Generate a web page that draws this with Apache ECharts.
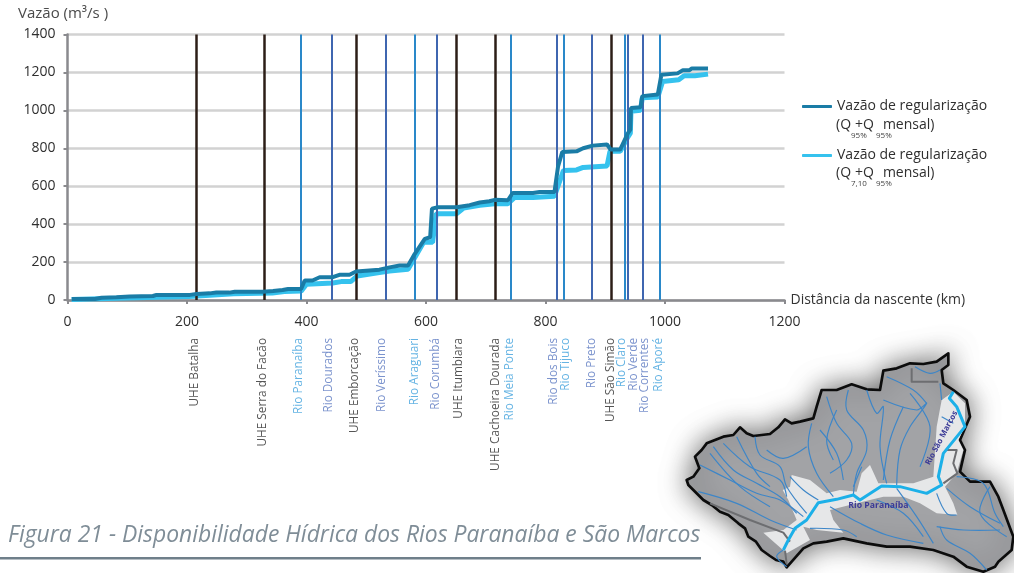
<!DOCTYPE html>
<html><head><meta charset="utf-8">
<style>html,body{margin:0;padding:0;background:#fff}#c{width:1014px;height:573px}</style>
<script src="https://cdn.jsdelivr.net/npm/echarts@6/dist/echarts.min.js"></script>
</head><body><div id="c"></div>
<script>
// ---- chart values (km, m3/s) ----
const darkKm = [7,46,57,82,104,143,149,205,216,238,249,271,280,327,344,360,369,391,397,410,422,444,455,472,483,522,539,556,570,581,598,607,610,620,651,673,690,706,715,737,745,779,790,815,821,828,852,863,879,903,909,925,938,942,943,959,962,988,994,1021,1030,1041,1045,1072];
const darkQ  = [5,5,12,14,19,21,27,27,32,35,39,39,44,44,48,53,58,58,103,103,120,120,133,133,150,160,172,182,182,242,322,331,482,489,489,500,514,521,528,526,564,564,569,569,704,780,784,800,814,820,793,793,880,898,1012,1016,1075,1084,1188,1195,1212,1212,1221,1221];
const lightKm = [7,98,203,238,278,343,363,391,400,444,458,474,485,522,539,570,596,611,617,651,663,690,715,737,748,779,815,830,852,863,903,908,925,938,942,943,959,962,988,996,1023,1032,1050,1072];
const lightQ  = [3,10,18,25,33,37,45,47,83,90,97,97,127,145,153,162,304,304,455,455,485,500,508,508,540,540,547,683,686,699,707,784,784,860,880,995,1000,1066,1071,1152,1161,1182,1182,1191];

const uheNames = ['UHE Batalha','UHE Serra do Facão','UHE Emborcação','UHE Itumbiara','UHE Cachoeira Dourada','UHE São Simão'];
const uheKm = [216,329,484,651,716,910];
const rioLightNames = ['Rio Paranaíba','Rio Araguari','Rio Meia Ponte','Rio Tijuco','Rio Claro','Rio Aporé'];
const rioLightKm = [391,582,742,831,932,992];
const rioDarkNames = ['Rio Dourados','Rio Veríssimo','Rio Corumbá','Rio dos Bois','Rio Preto','Rio Verde','Rio Correntes'];
const rioDarkKm = [442,533,618,819,878,938,963];
const xTicks = {min:0,max:1200,interval:200};
const yTicks = {min:0,max:1400,interval:200};
const nameDark = 'Vazão de regularização (Q95% +Q95% mensal)';
const nameLight = 'Vazão de regularização (Q7,10 +Q95% mensal)';

// ---- styling ----
const FONT='"Open Sans","Noto Sans",sans-serif';
const C={uhe:'#2c1e17',rl:'#2a88c9',rd:'#3f66b0',dark:'#1a7ca6',light:'#35c2ee',ltxtL:'#3fa0dc',ltxtD:'#5a78c0',ltxtU:'#2a2a2a'};
const nudge={'UHE Batalha':-2,'UHE Serra do Facão':-1,'Rio Paranaíba':-2,'Rio Dourados':-3,'UHE Emborcação':-2,'Rio Veríssimo':-4,'Rio Araguari':-1,'Rio Corumbá':-1,'UHE Itumbiara':2,'UHE Cachoeira Dourada':0,'Rio Meia Ponte':-1,'Rio dos Bois':-3,'Rio Tijuco':2,'Rio Preto':0,'UHE São Simão':-1,'Rio Claro':-3,'Rio Verde':6,'Rio Correntes':2,'Rio Aporé':-2};

function vlines(names,kms,color,width,txt){
  return [{
    type:'line',data:[],silent:true,z:2,
    markLine:{silent:true,symbol:'none',animation:false,label:{show:false},
      lineStyle:{color,width,type:'solid'},data:kms.map(k=>({xAxis:k}))}
  },{
    type:'scatter',symbolSize:0,silent:true,z:6,clip:false,
    data:kms.map((k,i)=>({value:[k,0],label:{offset:[-38,nudge[names[i]]||0],formatter:names[i]}})),
    label:{show:true,position:'inside',rotate:90,align:'right',verticalAlign:'middle',color:txt,fontFamily:FONT,fontSize:11.8}
  }];
}

// ---- inset map, in a local drawing space three times the page scale ----
const outline=[[350,682],[340,665],[318,660],[300,648],[275,630],[258,605],[235,590],[225,565],[205,550],[175,525],[150,515],[125,495],[100,480],[85,465],[55,435],[50,420],[70,410],[88,385],[75,350],[95,330],[110,310],[135,300],[160,290],[190,285],[210,262],[230,280],[250,288],[300,282],[325,262],[345,238],[365,250],[390,245],[430,235],[440,200],[455,150],[500,150],[545,133],[590,148],[630,150],[640,92],[680,85],[720,70],[760,72],[800,65],[835,40],[835,75],[815,90],[820,130],[850,150],[890,180],[900,230],[885,265],[870,300],[885,330],[870,395],[900,425],[960,425],[985,470],[1000,510],[1030,590],[1025,630],[985,665],[975,680],[940,695],[890,680],[850,650],[790,630],[720,620],[650,620],[590,610],[520,595],[470,605],[430,610],[400,625]];
const patch=[[365,405],[420,420],[470,460],[510,450],[560,455],[575,400],[600,375],[625,430],[730,430],[790,410],[800,260],[815,180],[850,155],[885,190],[885,260],[865,300],[880,330],[860,400],[825,440],[850,490],[862,525],[800,520],[750,490],[700,470],[640,470],[560,490],[480,510],[490,540],[520,578],[440,570],[400,560],[420,600],[350,640],[280,578],[340,570],[380,540],[355,480],[338,450],[360,440]];
const mainRiver=[[340,630],[355,600],[375,565],[410,540],[445,488],[500,478],[550,465],[570,480],[635,438],[690,440],[770,460],[815,435],[805,410],[820,340],[885,260],[860,200],[838,175],[850,155]];
const tribs=[
 [[90,375],[180,420],[260,460],[330,480],[400,530]],[[130,320],[190,390],[260,430],[330,470],[380,520]],
 [[85,455],[200,490],[300,540],[380,570]],[[255,290],[270,345],[330,380],[350,440],[410,520]],
 [[290,330],[340,355],[410,320]],[[425,250],[415,320],[440,400],[490,470]],
 [[470,170],[500,250],[545,310],[530,360],[480,400]],[[500,210],[470,300],[490,360]],
 [[535,150],[530,210],[580,270],[590,330],[560,400],[550,465]],[[590,150],[620,220],[640,200],[630,320],[650,430]],
 [[640,180],[740,210],[770,190],[720,260],[690,330],[680,435]],[[650,110],[730,150],[770,190]],
 [[735,80],[780,100],[810,90]],[[810,130],[815,180]],[[750,380],[780,260],[720,160]],
 [[480,500],[570,550],[650,585],[760,610]],[[680,445],[740,530],[790,610]],[[620,480],[700,520],[760,590]],
 [[800,460],[830,520],[860,525]],[[830,445],[900,500],[990,550]],[[860,410],[940,430],[975,520],[1000,560]],
 [[800,560],[880,570],[990,570]],[[810,560],[830,600],[900,640],[950,690]],[[420,565],[520,570],[560,590]],
 [[340,630],[320,650],[350,680]],[[360,410],[400,450],[445,480]],[[575,380],[550,440]],[[815,230],[850,250]],
 [[160,310],[240,380],[330,420],[350,470]],[[200,290],[260,400],[300,440]],[[450,270],[500,340],[520,420]],
 [[700,200],[660,300],[640,420]],[[120,340],[210,440],[300,500]],[[960,440],[930,520],[1010,590]]
];
const greyEdges=[[[725,85],[725,125],[805,125]],[[830,330],[860,330],[850,370],[862,400],[820,430]],[[120,490],[240,540],[340,578],[360,605]],[[345,632],[350,672]]];
const poly=(pts,style)=>({type:'polygon',shape:{points:pts},style});
const pline=(pts,stroke,w,smooth)=>({type:'polyline',shape:{points:pts,smooth:smooth||0},style:{stroke,lineWidth:w,fill:'none',lineJoin:'round'}});
const mapGroup={type:'group',x:670,y:340,scaleX:1/3,scaleY:1/3,z:20,silent:true,children:[
  poly(outline,{fill:'#a2a3a6',stroke:'#0c0c0c',lineWidth:8,shadowBlur:28,shadowColor:'rgba(0,0,0,0.6)',lineJoin:'round'}),
  poly(patch,{fill:'#e6e7e8'}),
  ...tribs.map(t=>pline(t,'#3d86c8',3.5,0.35)),
  ...greyEdges.map(t=>pline(t,'#6d6e71',6)),
  pline(mainRiver,'#1cb0e8',9),
  {type:'text',x:535,y:484,style:{text:'Rio Paranaíba',font:'bold 26px '+FONT,fill:'#3b3a96'}},
  {type:'text',x:762,y:368,rotation:Math.PI*0.345,style:{text:'Rio São Marcos',font:'bold 24px '+FONT,fill:'#3b3a96'}}
]};

const legendSub=(x,y)=>({type:'text',x,y,z:10,silent:true,style:{
  text:'{t|(Q}{g1|}{t|+Q}{g2|}{t|mensal)}',font:'14px '+FONT,
  rich:{t:{fontFamily:FONT,fontSize:14,fill:'#2f2f2f'},g1:{width:4},g2:{width:9}}}});
const subTxt=(x,y,t)=>({type:'text',x,y,z:10,silent:true,style:{text:t,font:'8px '+FONT,fill:'#444'}});

const chart=echarts.init(document.getElementById('c'),null,{renderer:'canvas'});
chart.setOption({
  animation:false,backgroundColor:'#fff',textStyle:{fontFamily:FONT},
  grid:{left:67.5,top:34.5,width:717,height:265.5,containLabel:false},
  xAxis:{type:'value',...xTicks,name:'Distância da nascente (km)',nameLocation:'end',nameGap:6,
    nameTextStyle:{fontFamily:FONT,fontSize:14,color:'#333',align:'left',verticalAlign:'middle'},
    axisLine:{show:true,onZero:false,lineStyle:{color:'#8a8a8e',width:2.5}},
    axisTick:{show:true,length:4,lineStyle:{color:'#8a8a8e',width:2}},
    axisLabel:{fontFamily:FONT,fontSize:14,color:'#2f2f2f',margin:15,showMaxLabel:true,formatter:v=>String(v)},splitLine:{show:false}},
  yAxis:{type:'value',...yTicks,
    axisLine:{show:true,lineStyle:{color:'#8a8a8e',width:2.5}},
    axisTick:{show:true,length:4,lineStyle:{color:'#8a8a8e',width:2}},
    axisLabel:{fontFamily:FONT,fontSize:14,color:'#2f2f2f',margin:12,showMaxLabel:true,formatter:v=>String(v)},
    splitLine:{show:true,lineStyle:{color:'#d2d2d2',width:2.5}}},
  legend:{show:true,orient:'vertical',left:802,top:97,padding:0,itemWidth:30,itemHeight:3,itemGap:30,icon:'roundRect',
    data:[nameDark,nameLight],selectedMode:false,
    formatter:()=>'Vazão de regularização',
    textStyle:{fontFamily:FONT,fontSize:14,color:'#2f2f2f',lineHeight:16,height:19}},
  series:[
    ...vlines(rioLightNames,rioLightKm,C.rl,2,C.ltxtL),
    ...vlines(rioDarkNames,rioDarkKm,C.rd,2,C.ltxtD),
    ...vlines(uheNames,uheKm,C.uhe,2.5,C.ltxtU),
    {name:nameLight,type:'line',symbol:'none',z:4,clip:false,data:lightKm.map((k,i)=>[k,lightQ[i]]),lineStyle:{color:C.light,width:5},itemStyle:{color:C.light}},
    {name:nameDark,type:'line',symbol:'none',z:5,clip:false,data:darkKm.map((k,i)=>[k,darkQ[i]]),lineStyle:{color:C.dark,width:4},itemStyle:{color:C.dark}}
  ],
  graphic:[
    {type:'text',x:18,y:6,silent:true,style:{text:'Vazão (m³/s )',font:'15px '+FONT,fill:'#4a4a4a'}},
    legendSub(836,118),subTxt(851,132,'95%'),subTxt(876,132,'95%'),
    legendSub(836,166),subTxt(851,180,'7,10'),subTxt(876,180,'95%'),
    {type:'text',x:8,y:524,silent:true,style:{text:'Figura 21 - Disponibilidade Hídrica dos Rios Paranaíba e São Marcos',font:'italic 22.9px '+FONT,fill:'#7f8d97'}},
    {type:'rect',shape:{x:0,y:557,width:701,height:2.5},silent:true,style:{fill:'#6f7f8a'}},
    mapGroup
  ]
});
</script></body></html>
